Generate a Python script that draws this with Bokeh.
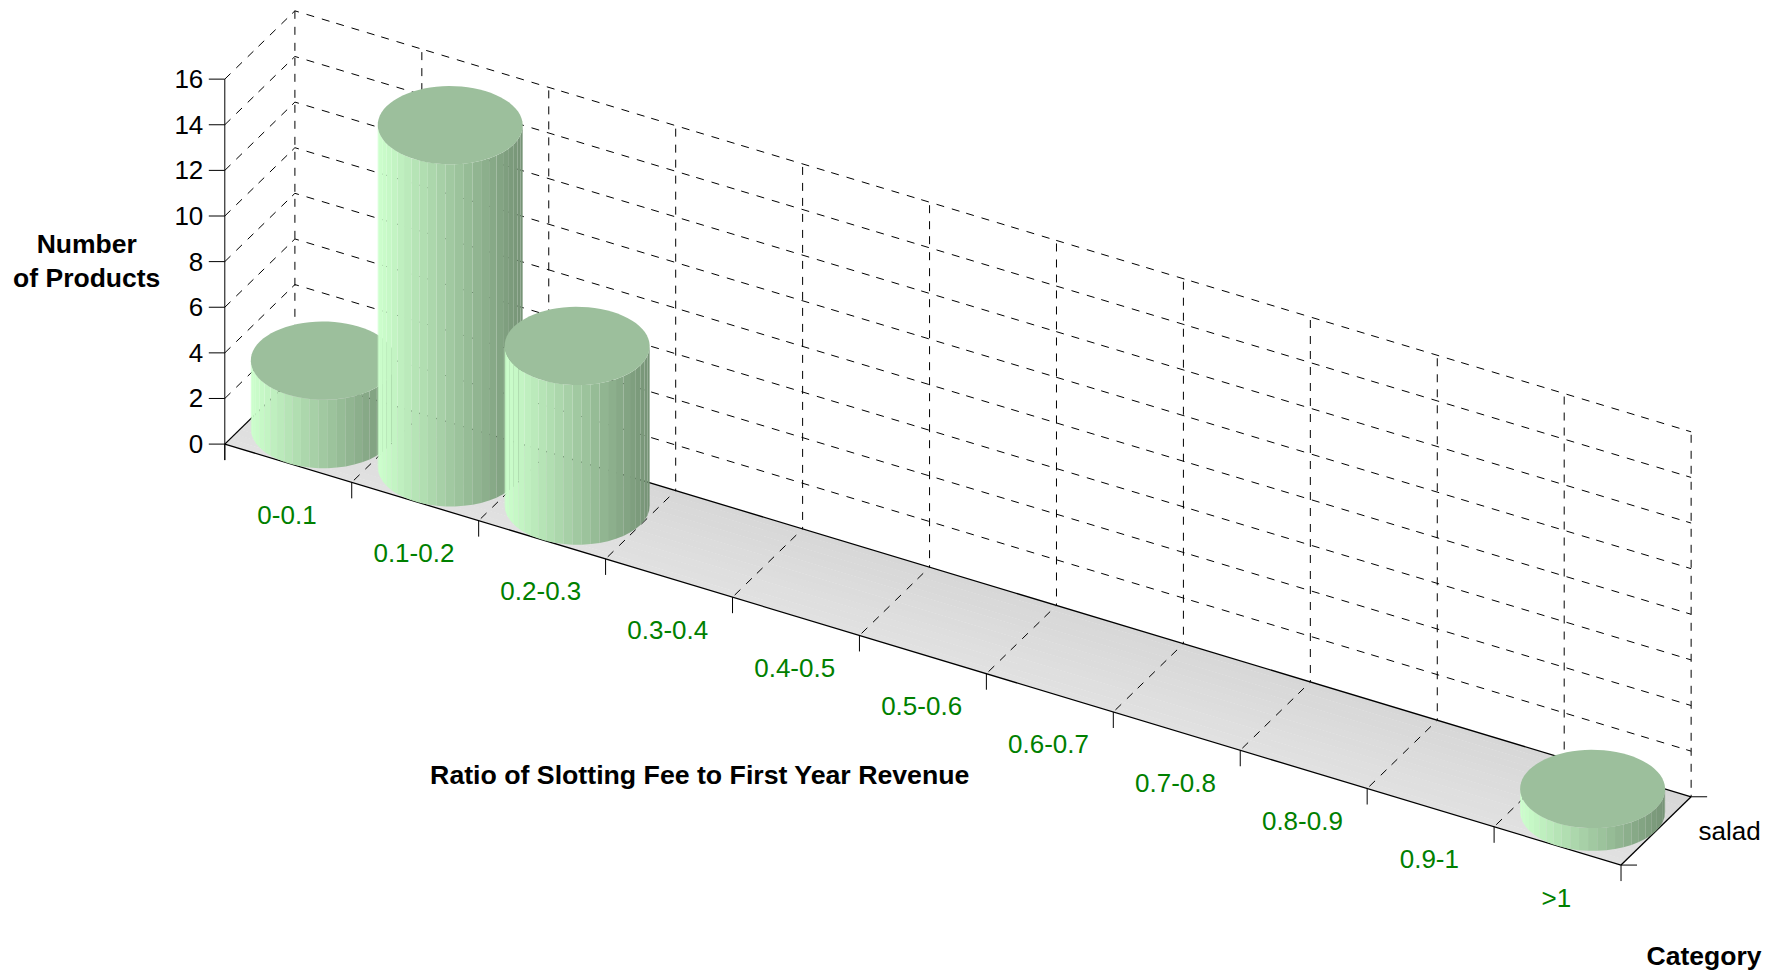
from math import atan2, cos, sin, pi
from bokeh.embed import file_html
from bokeh.models import Range1d
from bokeh.plotting import figure
from bokeh.resources import INLINE

categories = ["0-0.1", "0.1-0.2", "0.2-0.3", "0.3-0.4", "0.4-0.5", "0.5-0.6",
              "0.6-0.7", "0.7-0.8", "0.8-0.9", "0.9-1", ">1"]
products = [3, 15, 7, 0, 0, 0, 0, 0, 0, 0, 1]
y_ticks = [0, 2, 4, 6, 8, 10, 12, 14, 16]
depth_label = "salad"
x_title = "Ratio of Slotting Fee to First Year Revenue"
y_title = ["Number", "of Products"]
z_title = "Category"

# projection of (category, value, depth) onto the page
O = (224.3, 443.6)
U = (126.93, 38.27)
V = (70.1, -68.3)
H = 22.81
RADIUS = 0.5
FACETS = 25
W, HT = 1783, 976


def P(c, y, d=0.0):
    return (O[0] + c * U[0] + d * V[0], O[1] + c * U[1] + d * V[1] - y * H)


p = figure(width=W, height=HT, output_backend="svg", toolbar_location=None,
           x_range=Range1d(0, W), y_range=Range1d(HT, 0),
           min_border=0, outline_line_color=None)
p.xaxis.visible = False
p.yaxis.visible = False
p.grid.visible = False
p.background_fill_color = "white"
p.border_fill_color = "white"

N = len(categories)
TOP = y_ticks[-1]

# floor: soft gradient in strips across the depth
STRIPS = 14
xs, ys, cols = [], [], []
for i in range(STRIPS):
    d0, d1 = i / STRIPS, min(1, (i + 1.06) / STRIPS)
    q = [P(0, 0, d0), P(N, 0, d0), P(N, 0, d1), P(0, 0, d1)]
    xs.append([a[0] for a in q]); ys.append([a[1] for a in q])
    g = round(225 - 10 * i / (STRIPS - 1))
    cols.append(f"#{g:02x}{g:02x}{g:02x}")
p.patches(xs, ys, fill_color=cols, line_color=None)

DASH = "8 8 8 8 8 7"
GW = 1
# walls: depth run then along the back wall, as one dashed path
for t in y_ticks[1:]:
    a, b, c = P(0, t, 0), P(0, t, 1), P(N, t, 1)
    p.line([a[0], b[0], c[0]], [a[1], b[1], c[1]], line_color="black",
           line_width=GW, line_dash=DASH)
# verticals and floor rulings
for i in range(N + 1):
    a, b = P(i, TOP, 1), P(i, 0, 1)
    p.line([a[0], b[0]], [a[1], b[1]], line_color="black", line_width=GW,
           line_dash=DASH, line_dash_offset=13 if 0 < i else 0)
    if 0 < i < N:
        c, d = P(i, 0, 0), P(i, 0, 1)
        p.line([c[0], d[0]], [c[1], d[1]], line_color="black", line_width=GW,
               line_dash=DASH, line_dash_offset=13)

# solid floor edges
for s, e in [((0, 0, 0), (N, 0, 0)), ((0, 0, 0), (0, 0, 1)),
             ((N, 0, 0), (N, 0, 1)), ((0, 0, 1), (N, 0, 1))]:
    a, b = P(*s), P(*e)
    p.line([a[0], b[0]], [a[1], b[1]], line_color="black", line_width=1.3)

# value axis
a, b = P(0, TOP), P(0, 0)
p.line([a[0], a[0]], [a[1], b[1] + 16], line_color="black", line_width=1)
p.segment([P(0, t)[0] - 16 for t in y_ticks], [P(0, t)[1] for t in y_ticks],
          [P(0, t)[0] for t in y_ticks], [P(0, t)[1] for t in y_ticks],
          line_color="black", line_width=1)
# category ticks
p.segment([P(i, 0)[0] for i in range(N + 1)], [P(i, 0)[1] for i in range(N + 1)],
          [P(i, 0)[0] for i in range(N + 1)], [P(i, 0)[1] + 16 for i in range(N + 1)],
          line_color="black", line_width=1)
# depth ticks
for d in (0, 1):
    q = P(N, 0, d)
    p.segment([q[0]], [q[1]], [q[0] + 16], [q[1]], line_color="black", line_width=1)

# cylinders
T0 = atan2(V[0], U[0])


def ring(c, d, t):
    return (c + RADIUS * cos(t), d + RADIUS * sin(t))


for i, v in enumerate(products):
    if v <= 0:
        continue
    cx, dz = i + 0.5, 0.5
    half = (U[0] ** 2 + V[0] ** 2) ** 0.5 * RADIUS
    ctr = P(cx, 0, dz)
    fx, fy, fc = [], [], []
    for k in range(FACETS):
        t0 = T0 - pi + pi * k / FACETS
        t1 = T0 - pi + pi * (k + 1) / FACETS
        c0, d0 = ring(cx, dz, t0)
        c1, d1 = ring(cx, dz, t1)
        b0, b1, u1, u0 = P(c0, 0, d0), P(c1, 0, d1), P(c1, v, d1), P(c0, v, d0)
        fx.append([b0[0], b1[0], u1[0], u0[0]])
        fy.append([b0[1], b1[1], u1[1], u0[1]])
        mid = ((b0[0] + b1[0]) / 2 - ctr[0]) / half
        s = min(1.0, 0.79 - 0.215 * mid)
        fc.append(f"#{round(204*s):02x}{round(255*s):02x}{round(204*s):02x}")
    p.patches(fx, fy, fill_color=fc, line_color=None)
    ell = [ring(cx, dz, 2 * pi * k / 72) for k in range(72)]
    tp = [P(a, v, b) for a, b in ell]
    p.patch([a[0] for a in tp], [a[1] for a in tp], fill_color="#9cbf9c", line_color=None)

FS = "26px"
FB = "26.5px"
FONT = "Liberation Sans"
p.text([P(0, t)[0] - 21.5 for t in y_ticks], [P(0, t)[1] for t in y_ticks],
       text=[str(t) for t in y_ticks], text_font={"value": FONT}, text_font_size=FS,
       text_align="right", text_baseline="middle", text_color="black")
lx = [P(i + 0.5, 0)[0] - 1.3 for i in range(N)]
ly = [P(i + 0.5, 0)[1] + 51.6 for i in range(N)]
p.text(lx, ly, text=categories, text_font={"value": FONT}, text_font_size=FS,
       text_align="center", text_baseline="middle", text_color="#008000")
q = P(N, 0, 0.5)
p.text([q[0] + 42.5], [q[1]], text=[depth_label], text_font={"value": FONT}, text_font_size=FS,
       text_align="left", text_baseline="middle", text_color="black")
p.text([699.5], [774], text=[x_title], text_font={"value": FONT}, text_font_size="26.7px",
       text_font_style="bold", text_align="center", text_baseline="middle", text_color="black")
p.text([86.2, 86.2], [243, 277], text=y_title, text_font={"value": FONT}, text_font_size=FB,
       text_font_style="bold", text_align="center", text_baseline="middle", text_color="black")
p.text([1703.5], [955], text=[z_title], text_font={"value": FONT}, text_font_size=FB,
       text_font_style="bold", text_align="center", text_baseline="middle", text_color="black")

open("out.html", "w").write(file_html(p, INLINE))
